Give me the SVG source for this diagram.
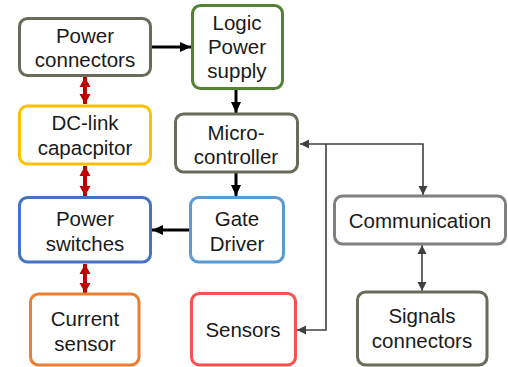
<svg xmlns="http://www.w3.org/2000/svg" width="508" height="367" viewBox="0 0 508 367">
<style>
.box{fill:#fff;stroke-width:3}
text{font-family:"Liberation Sans",Arial,sans-serif;font-size:20.5px;fill:#1a1a1a;text-anchor:middle}
.blk{stroke:#000;stroke-width:3;fill:none}
.red{stroke:#c00000;stroke-width:4;fill:none}
.gry{stroke:#404040;stroke-width:1.6;fill:none}
</style>
<defs>
<marker id="hb" markerUnits="userSpaceOnUse" markerWidth="12" markerHeight="12" refX="11" refY="6" orient="auto"><path d="M0,1 L11,6 L0,11 Z" fill="#000"/></marker>
<marker id="hr" markerUnits="userSpaceOnUse" markerWidth="12" markerHeight="12" refX="10" refY="6" orient="auto-start-reverse"><path d="M0,0.5 L10,6 L0,11.5 Z" fill="#c00000"/></marker>
<marker id="hg" markerUnits="userSpaceOnUse" markerWidth="10" markerHeight="10" refX="9" refY="5" orient="auto-start-reverse"><path d="M0,0.5 L9,5 L0,9.5 Z" fill="#404040"/></marker>
</defs>
<g id="connectors">
<line class="blk" x1="152" y1="47" x2="191" y2="47" marker-end="url(#hb)"/>
<line class="blk" x1="236" y1="90" x2="236" y2="113" marker-end="url(#hb)"/>
<line class="blk" x1="236" y1="173" x2="236" y2="196" marker-end="url(#hb)"/>
<line class="blk" x1="189" y1="230" x2="152" y2="230" marker-end="url(#hb)"/>
<line class="red" x1="85" y1="77" x2="85" y2="104" marker-start="url(#hr)" marker-end="url(#hr)"/>
<line class="red" x1="85" y1="166" x2="85" y2="196" marker-start="url(#hr)" marker-end="url(#hr)"/>
<line class="red" x1="85" y1="264" x2="85" y2="293" marker-start="url(#hr)" marker-end="url(#hr)"/>
<polyline class="gry" points="423,195 423,144 300,144" marker-start="url(#hg)" marker-end="url(#hg)"/>
<polyline class="gry" points="326,144 326,330 297,330" marker-end="url(#hg)"/>
<line class="gry" x1="422" y1="245" x2="422" y2="291" marker-start="url(#hg)" marker-end="url(#hg)"/>
</g>
<g id="power-connectors"><rect class="box" x="19.5" y="18.5" width="131" height="57" rx="8" stroke="#6b6b5b"/><text x="85" y="43">Power</text><text x="85" y="67">connectors</text></g>
<g id="logic-power-supply"><rect class="box" x="192.5" y="5.5" width="90" height="83" rx="8" stroke="#548235"/><text x="237" y="30">Logic</text><text x="237" y="54">Power</text><text x="237" y="78">supply</text></g>
<g id="dc-link"><rect class="box" x="19.5" y="106" width="131" height="58" rx="8" stroke="#ffc000"/><text x="85" y="130">DC-link</text><text x="85" y="155">capacpitor</text></g>
<g id="micro-controller"><rect class="box" x="175.5" y="114" width="122" height="58" rx="8" stroke="#6b6b5b"/><text x="236" y="140">Micro-</text><text x="236" y="164">controller</text></g>
<g id="power-switches"><rect class="box" x="19.5" y="197.5" width="131" height="64.5" rx="8" stroke="#4472c4"/><text x="85" y="226">Power</text><text x="85" y="251">switches</text></g>
<g id="gate-driver"><rect class="box" x="190.5" y="197.5" width="93" height="64.5" rx="8" stroke="#5b9bd5"/><text x="237" y="226">Gate</text><text x="237" y="251">Driver</text></g>
<g id="current-sensor"><rect class="box" x="30.5" y="294" width="108.5" height="71" rx="8" stroke="#ed7d31"/><text x="85" y="326">Current</text><text x="85" y="351">sensor</text></g>
<g id="sensors"><rect class="box" x="191.5" y="293.5" width="104" height="71.5" rx="8" stroke="#ff5050"/><text x="243" y="337">Sensors</text></g>
<g id="communication"><rect class="box" x="334.5" y="196" width="171" height="48" rx="8" stroke="#808080"/><text x="420" y="228">Communication</text></g>
<g id="signals-connectors"><rect class="box" x="357.5" y="292" width="129.5" height="73" rx="8" stroke="#6b6b5b"/><text x="422" y="323">Signals</text><text x="422" y="348">connectors</text></g>
</svg>
